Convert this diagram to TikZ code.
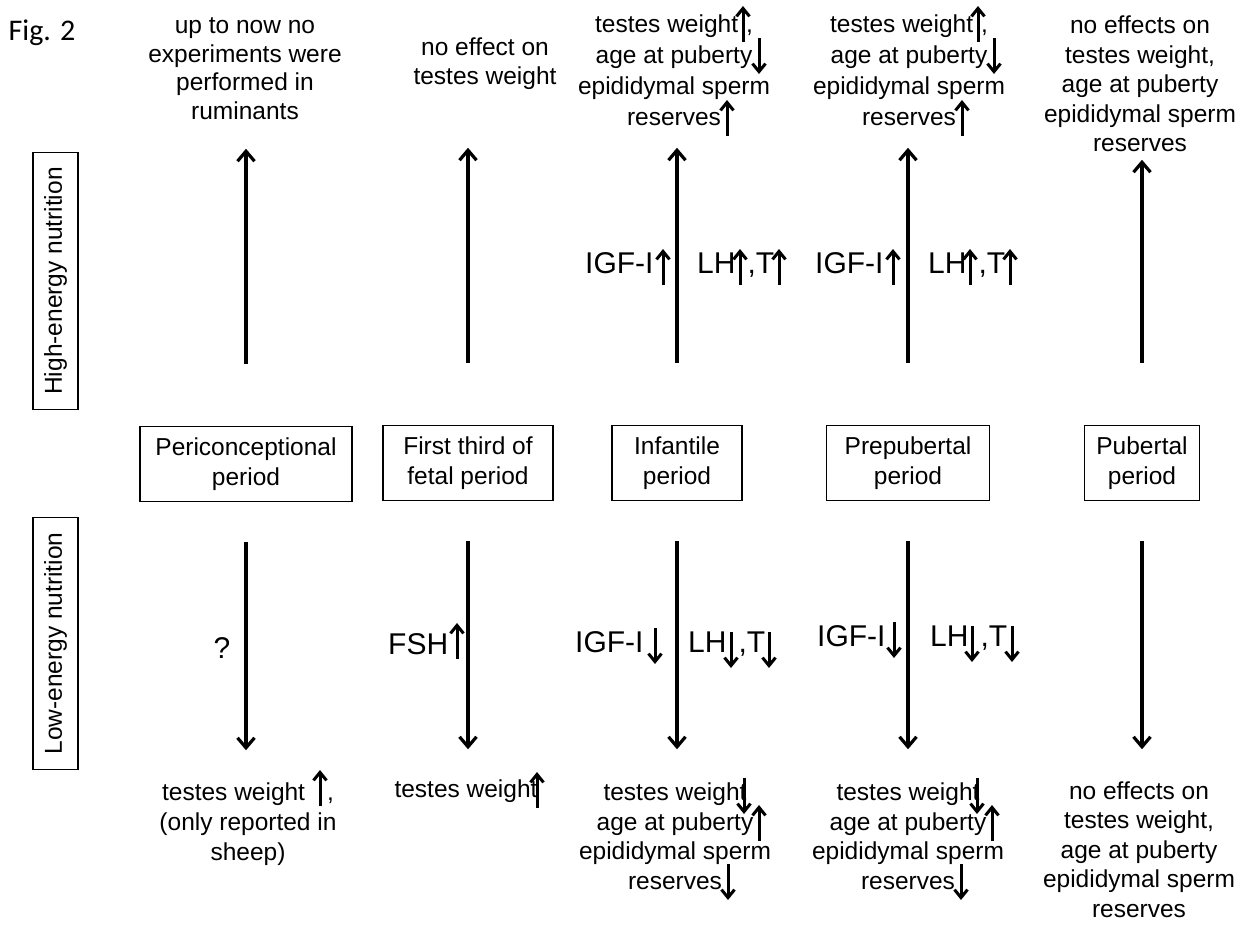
\documentclass[tikz,border=0pt]{standalone}
\usepackage{fontspec}
\setmainfont{Liberation Sans}
\newfontfamily\figfont{Carlito}
\usetikzlibrary{arrows.meta}

\begin{document}
\begin{tikzpicture}[x=1pt,y=-1pt,
    every node/.style={inner sep=0pt,align=center,font=\fontsize{24.5}{29.5}\selectfont},
    effect/.style={anchor=north,execute at begin node=\vphantom{T}},
    period/.style={draw,line width=1.5pt,minimum height=75pt},
    diet/.style={draw,line width=1.5pt,rotate=90,minimum height=45pt,inner xsep=15pt},
    hormone/.style={anchor=base west,font=\fontsize{30}{36}\selectfont},
    bigarr/.style={line width=3.2pt,-{Straight Barb[length=10pt,width=17pt]}},
    smallarr/.style={line width=3pt,-{Straight Barb[length=8pt,width=13pt]}},
    upmark/.pic={\draw[smallarr] (0,18) -- (0,-18);},
    downmark/.pic={\draw[smallarr] (0,-18) -- (0,18);}]
  \useasboundingbox (0,0) rectangle (1248,924);

  \node[font=\figfont\fontsize{30}{36}\selectfont] (fig) at (42,33) {Fig. 2};

  % nutrition labels
  \node[diet] (high) at (55.5,281) {High-energy nutrition};
  \node[diet] (low) at (55.5,643.5) {Low-energy nutrition};

  % periods
  \node[period,minimum width=212pt] (b1) at (246,464) {Periconceptional\\period};
  \node[period,minimum width=170pt] (b2) at (468,463) {First third of\\fetal period};
  \node[period,minimum width=130pt] (b3) at (677,463) {Infantile\\period};
  \node[period,minimum width=163pt] (b4) at (908,463) {Prepubertal\\period};
  \node[period,minimum width=115pt] (b5) at (1142,463) {Pubertal\\period};

  \foreach \b in {b1,b2,b3,b4}{
    \draw[bigarr] (\b.north) ++(0,-62) -- ++(0,-215);
  }
  \draw[bigarr] (b5.north) ++(0,-62) -- ++(0,-203);
  \foreach \b in {b1,b2,b3,b4,b5}{
    \draw[bigarr] (\b.south) ++(0,40) -- ++(0,208);
  }

  % high-energy effects
  \node[effect,font=\fontsize{24.5}{28.5}\selectfont] (t1) at (245,17.5) {up to now no\\experiments were\\performed in\\ruminants};
  \node[effect,font=\fontsize{24.5}{29}\selectfont] (t2) at (485,37.5) {no effect on\\testes weight};
  \node[effect,font=\fontsize{24.5}{31}\selectfont] (t3) at (674,14.5) {testes weight\hspace{8pt},\\age at puberty\\epididymal sperm\\reserves};
  \node[effect,font=\fontsize{24.5}{31}\selectfont] (t4) at (909,14.5) {testes weight\hspace{8pt},\\age at puberty\\epididymal sperm\\reserves};
  \node[effect] (t5) at (1140,16) {no effects on\\testes weight,\\age at puberty\\epididymal sperm\\reserves};
  \pic at (743,24) {upmark};
  \pic at (759,56) {downmark};
  \pic at (727,118) {upmark};
  \pic at (978,24) {upmark};
  \pic at (994,56) {downmark};
  \pic at (962,118) {upmark};

  \node[hormone] (igf3) at (585,273) {IGF-I};
  \node[hormone] (lh3) at (697,273) {LH\hspace{12pt},T};
  \node[hormone] (igf4) at (815,273) {IGF-I};
  \node[hormone] (lh4) at (928,273) {LH\hspace{12pt},T};
  \pic at (663,267) {upmark};
  \pic at (740,267) {upmark};
  \pic at (779,267) {upmark};
  \pic at (893,267) {upmark};
  \pic at (970,267) {upmark};
  \pic at (1010,267) {upmark};

  % low-energy effects
  \node[font=\fontsize{30}{36}\selectfont] (q1) at (222,648) {?};
  \node[hormone] (fsh) at (388,654) {FSH};
  \pic at (457,641) {upmark};
  \node[hormone] (igf3l) at (575,652) {IGF-I};
  \node[hormone] (lh3l) at (688,652) {LH\hspace{12pt},T};
  \node[hormone] (igf4l) at (817,646) {IGF-I};
  \node[hormone] (lh4l) at (930,646) {LH\hspace{12pt},T};
  \pic at (655,646) {downmark};
  \pic at (731,650) {downmark};
  \pic at (769,650) {downmark};
  \pic at (894,640) {downmark};
  \pic at (972,644) {downmark};
  \pic at (1012,644) {downmark};

  \node[effect,font=\fontsize{24.5}{30}\selectfont] (u1) at (248,782.5) {testes weight\hspace{22pt},\\(only reported in\\sheep)};
  \node[effect] (u2) at (466,779.5) {testes weight};
  \node[effect,font=\fontsize{24.5}{29.7}\selectfont] (u3) at (675,782.5) {testes weight\\age at puberty\\epididymal sperm\\reserves};
  \node[effect,font=\fontsize{24.5}{29.7}\selectfont] (u4) at (908,782.5) {testes weight\\age at puberty\\epididymal sperm\\reserves};
  \node[effect] (u5) at (1139,781.5) {no effects on\\testes weight,\\age at puberty\\epididymal sperm\\reserves};
  \pic at (320,788) {upmark};
  \pic at (537,790) {upmark};
  \pic at (744,796) {downmark};
  \pic at (759,823) {upmark};
  \pic at (728,882) {downmark};
  \pic at (977,796) {downmark};
  \pic at (992,823) {upmark};
  \pic at (961,882) {downmark};
\end{tikzpicture}
\end{document}
